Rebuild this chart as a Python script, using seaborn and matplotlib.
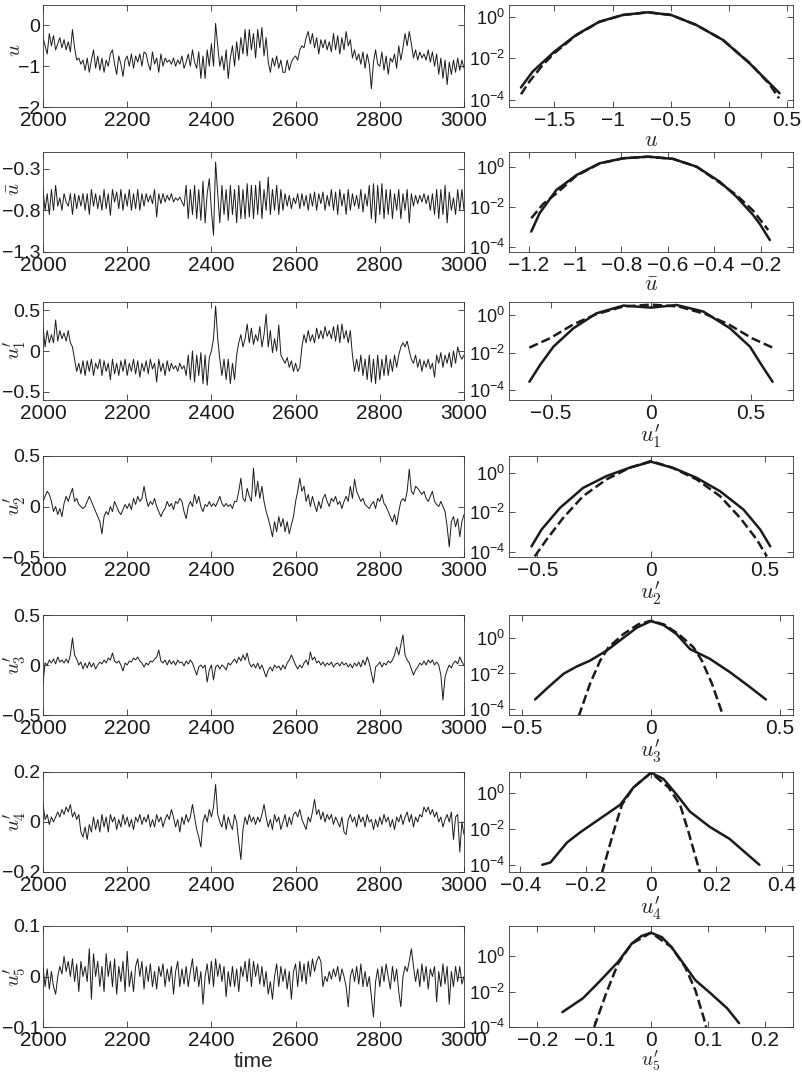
import numpy as np
import matplotlib
matplotlib.use("Agg")
import matplotlib.pyplot as plt
import seaborn as sns
from matplotlib.ticker import NullLocator

# time axis of the left panels (sampled every 5 time units)
time = np.arange(2000, 3001, 5)

u_series = [
    -0.3, -0.5, -0.7, -0.2, -0.5, -0.25, -0.6, -0.45, -0.3, -0.55, -0.35, -0.6, -0.4, -0.65, -0.1, -0.55, -0.85, -0.8, -0.95, -0.85,
    -1.1, -0.8, -1.15, -0.85, -0.6, -1.05, -0.75, -1.1, -0.8, -1.15, -0.85, -1.0, -0.7, -0.6, -0.95, -1.2, -0.75, -0.95, -1.25, -0.85,
    -0.75, -1.0, -0.7, -1.05, -0.75, -0.9, -0.7, -1.0, -0.65, -0.7, -0.95, -1.1, -0.65, -0.95, -0.8, -1.15, -0.7, -1.0, -0.8, -0.9,
    -0.85, -0.95, -0.8, -1.0, -0.85, -0.95, -0.75, -1.05, -0.9, -0.7, -1.0, -0.6, -0.9, -1.05, -0.65, -1.3, -0.75, -1.3, -0.6, -1.0,
    -0.45, -1.0, 0.05, -0.5, -1.0, -0.75, -1.1, -0.6, -1.3, -0.8, -0.5, -1.0, -0.4, -0.85, -0.3, -0.7, -0.1, -0.75, -0.1, -0.6,
    -0.2, -0.8, -0.1, -0.55, -0.05, -0.75, -0.3, -0.9, -1.15, -0.8, -1.0, -0.75, -1.05, -0.85, -1.15, -1.15, -0.85, -1.1, -0.9, -0.8,
    -0.75, -0.85, -0.6, -0.5, -0.55, -0.3, -0.15, -0.45, -0.2, -0.55, -0.3, -0.7, -0.35, -0.55, -0.35, -0.6, -0.4, -0.65, -0.2, -0.6,
    -0.25, -0.7, -0.3, -0.6, -0.15, -0.5, -0.35, -0.8, -0.6, -0.85, -0.7, -0.95, -0.65, -1.05, -0.7, -0.95, -1.55, -0.9, -0.6, -0.95,
    -1.0, -0.65, -1.1, -0.75, -1.2, -0.8, -0.9, -0.7, -1.05, -0.5, -0.85, -0.55, -0.2, -0.5, -0.15, -0.45, -0.8, -0.6, -0.85, -0.65,
    -0.8, -0.7, -0.85, -0.6, -0.9, -0.65, -1.0, -0.7, -1.2, -0.8, -1.3, -0.85, -1.45, -0.9, -1.2, -0.85, -1.15, -0.8, -1.1, -0.85,
    -1.05]

ubar_series = [
    -0.55, -0.8, -0.6, -0.85, -0.55, -0.8, -0.5, -0.75, -0.65, -0.8, -0.6, -0.7, -0.75, -0.6, -0.85, -0.6, -0.78, -0.62, -0.75, -0.6,
    -0.8, -0.6, -0.85, -0.55, -0.75, -0.6, -0.78, -0.62, -0.8, -0.55, -0.78, -0.6, -0.86, -0.55, -0.7, -0.58, -0.78, -0.55, -0.8, -0.6,
    -0.75, -0.55, -0.8, -0.6, -0.78, -0.55, -0.8, -0.6, -0.75, -0.6, -0.7, -0.62, -0.72, -0.55, -0.88, -0.6, -0.72, -0.6, -0.7, -0.62,
    -0.68, -0.6, -0.7, -0.65, -0.68, -0.64, -0.7, -0.75, -0.5, -0.9, -0.55, -0.85, -0.5, -0.9, -0.55, -0.92, -0.45, -0.95, -0.6, -0.42,
    -0.8, -1.1, -0.22, -0.6, -0.95, -0.5, -0.85, -0.55, -0.92, -0.5, -0.85, -0.55, -0.95, -0.5, -0.9, -0.55, -0.9, -0.48, -0.88, -0.5,
    -0.9, -0.5, -0.85, -0.45, -0.9, -0.55, -0.8, -0.4, -0.85, -0.55, -0.8, -0.5, -0.85, -0.55, -0.8, -0.6, -0.75, -0.62, -0.78, -0.65,
    -0.72, -0.6, -0.78, -0.6, -0.75, -0.62, -0.8, -0.6, -0.75, -0.58, -0.8, -0.6, -0.72, -0.58, -0.8, -0.62, -0.75, -0.55, -0.8, -0.58,
    -0.85, -0.55, -0.75, -0.6, -0.85, -0.55, -0.8, -0.6, -0.75, -0.62, -0.78, -0.55, -0.82, -0.6, -0.75, -0.5, -0.9, -0.48, -0.95, -0.5,
    -0.85, -0.48, -0.9, -0.55, -0.85, -0.55, -0.9, -0.6, -0.8, -0.55, -0.9, -0.6, -0.8, -0.55, -0.95, -0.6, -0.75, -0.62, -0.72, -0.62,
    -0.7, -0.6, -0.72, -0.62, -0.8, -0.6, -0.85, -0.55, -0.9, -0.55, -0.85, -0.5, -0.95, -0.58, -0.8, -0.65, -0.85, -0.55, -0.8, -0.55,
    -0.8]

u1_series = [
    0.3, 0.05, 0.25, 0.1, 0.2, 0.1, 0.38, 0.12, 0.25, 0.15, 0.22, 0.12, 0.25, 0.1, 0.05, -0.1, -0.25, -0.15, -0.28, -0.12,
    -0.3, -0.12, -0.25, -0.1, -0.3, -0.15, -0.22, -0.1, -0.3, -0.12, -0.25, -0.15, -0.35, -0.1, -0.28, -0.15, -0.3, -0.12, -0.25, -0.1,
    -0.3, -0.15, -0.25, -0.1, -0.28, -0.12, -0.32, -0.15, -0.25, -0.12, -0.28, -0.1, -0.22, -0.15, -0.38, -0.1, -0.25, -0.15, -0.3, -0.12,
    -0.25, -0.15, -0.22, -0.18, -0.25, -0.15, -0.22, -0.18, -0.3, -0.05, -0.35, 0.0, -0.38, -0.05, -0.3, -0.02, -0.4, -0.05, -0.42, -0.08,
    0.0, 0.15, 0.55, 0.15, -0.1, -0.3, -0.1, -0.35, -0.1, -0.4, -0.15, -0.35, -0.05, 0.1, 0.2, 0.05, 0.15, 0.33, 0.1, 0.28,
    0.08, 0.2, 0.12, 0.3, 0.05, 0.2, 0.45, 0.05, 0.25, -0.02, 0.15, 0.0, 0.32, -0.05, -0.1, -0.15, -0.08, -0.2, -0.12, -0.25,
    -0.15, -0.25, -0.2, 0.05, 0.2, 0.1, 0.25, 0.12, 0.2, 0.1, 0.28, 0.15, 0.25, 0.15, 0.3, 0.18, 0.25, 0.15, 0.3, 0.12,
    0.32, 0.1, 0.33, 0.15, 0.25, 0.1, 0.25, -0.05, -0.25, -0.1, -0.25, -0.05, -0.3, -0.1, -0.35, -0.05, -0.38, -0.1, -0.4, -0.05,
    -0.35, -0.1, -0.3, -0.05, -0.3, -0.1, -0.25, -0.05, -0.2, -0.05, 0.05, 0.1, 0.05, 0.12, 0.0, -0.1, -0.15, -0.05, -0.2, -0.1,
    -0.25, -0.12, -0.2, -0.1, -0.22, -0.15, -0.32, -0.05, -0.15, -0.02, -0.2, -0.05, -0.15, -0.02, -0.2, 0.0, -0.15, 0.05, -0.05, -0.1,
    -0.05]

u2_series = [
    0.05, 0.1, 0.15, 0.12, 0.05, -0.05, 0.0, -0.08, -0.02, -0.1, 0.03, 0.1, 0.05, 0.12, 0.18, 0.05, 0.08, 0.02, 0.0, -0.02,
    0.0, 0.05, 0.1, 0.05, 0.0, -0.05, -0.1, -0.15, -0.27, -0.1, -0.05, -0.08, 0.0, -0.05, 0.05, 0.0, -0.05, -0.08, -0.03, 0.02,
    -0.02, 0.03, -0.03, 0.08, 0.02, 0.1, 0.05, 0.08, 0.2, 0.08, 0.0, 0.05, 0.02, 0.08, 0.0, -0.05, -0.1, -0.05, -0.02, 0.05,
    0.0, 0.03, -0.03, 0.05, 0.03, 0.08, 0.05, -0.05, -0.12, 0.0, 0.05, 0.0, 0.12, 0.03, 0.1, 0.0, -0.05, 0.02, 0.0, 0.05,
    0.0, 0.03, 0.0, 0.05, 0.1, 0.03, 0.0, 0.03, 0.0, 0.02, -0.02, 0.05, 0.05, 0.15, 0.28, 0.08, 0.05, 0.18, 0.1, 0.05,
    0.38, 0.1, 0.25, 0.08, 0.2, 0.05, -0.05, -0.12, -0.2, -0.3, -0.15, -0.25, -0.1, -0.2, -0.12, -0.25, -0.15, -0.27, -0.18, -0.1,
    0.05, 0.15, 0.28, 0.15, 0.2, 0.05, 0.12, 0.0, 0.1, 0.02, -0.05, 0.05, -0.02, 0.08, 0.12, 0.05, 0.0, 0.08, 0.05, 0.1,
    0.02, 0.05, -0.02, 0.05, 0.1, 0.05, 0.2, 0.08, 0.27, 0.15, 0.1, 0.05, 0.08, 0.02, 0.0, -0.02, 0.02, 0.05, -0.02, 0.08,
    0.05, 0.12, 0.03, 0.0, -0.05, -0.1, -0.15, -0.08, -0.18, -0.05, 0.05, 0.08, 0.05, 0.15, 0.37, 0.15, 0.12, 0.2, 0.18, 0.15,
    0.12, 0.15, 0.08, 0.05, 0.1, 0.15, 0.05, 0.02, 0.0, 0.05, 0.0, -0.05, -0.2, -0.4, -0.15, -0.1, -0.2, -0.12, -0.3, -0.15,
    -0.08]

u3_series = [
    -0.18, 0.02, 0.0, 0.05, 0.02, 0.06, 0.01, 0.08, 0.03, 0.05, 0.02, 0.06, 0.02, 0.1, 0.27, 0.1, 0.06, 0.0, 0.03, -0.04,
    0.02, -0.03, 0.03, -0.02, 0.02, -0.04, 0.0, 0.03, 0.01, 0.05, 0.02, 0.07, 0.05, 0.12, 0.04, 0.02, 0.04, 0.0, -0.06, 0.02,
    0.0, 0.04, 0.03, 0.07, 0.05, 0.08, 0.04, 0.02, -0.02, 0.02, 0.0, 0.04, 0.03, 0.06, 0.08, 0.15, 0.04, 0.02, 0.05, 0.0,
    0.05, 0.01, 0.04, 0.0, 0.05, 0.02, 0.03, -0.01, 0.04, 0.01, 0.05, 0.02, -0.04, -0.1, -0.02, 0.0, -0.03, 0.0, -0.17, -0.05,
    0.0, -0.15, -0.02, 0.0, -0.04, 0.0, -0.02, -0.05, 0.02, 0.0, 0.03, 0.06, 0.02, 0.08, 0.04, 0.1, 0.05, 0.12, 0.02, -0.02,
    0.01, -0.03, 0.02, -0.04, 0.0, -0.06, -0.12, -0.05, -0.02, -0.06, 0.0, -0.03, -0.01, -0.05, 0.0, -0.04, 0.02, 0.05, 0.1, 0.05,
    0.0, -0.04, 0.0, -0.03, 0.02, 0.05, 0.0, 0.13, 0.05, 0.08, 0.02, 0.04, 0.0, 0.03, -0.01, 0.02, 0.0, 0.03, -0.02, 0.01,
    0.02, -0.01, 0.03, 0.0, 0.02, -0.02, 0.01, -0.03, 0.02, -0.01, 0.03, -0.02, 0.05, 0.0, 0.08, 0.02, -0.08, -0.18, -0.02, 0.0,
    0.03, -0.02, 0.02, 0.0, 0.04, 0.02, 0.05, 0.1, 0.18, 0.1, 0.2, 0.3, 0.1, 0.05, 0.02, -0.04, -0.1, -0.05, -0.02, 0.02,
    0.0, 0.04, 0.0, 0.05, 0.02, 0.05, 0.0, 0.03, 0.0, -0.1, -0.35, -0.12, -0.05, 0.0, -0.03, 0.02, 0.04, 0.01, 0.08, 0.03,
    0.0]

u4_series = [
    0.07, 0.01, 0.03, -0.01, 0.02, 0.0, 0.02, 0.04, 0.02, 0.05, 0.03, 0.06, 0.04, 0.07, 0.02, 0.04, 0.01, 0.03, -0.04, -0.06,
    -0.02, -0.07, -0.01, -0.04, 0.02, -0.03, 0.01, -0.04, 0.03, -0.02, 0.02, -0.04, 0.03, 0.0, 0.02, -0.03, 0.01, -0.02, 0.03, -0.01,
    0.02, -0.02, 0.01, -0.03, 0.02, 0.0, 0.03, -0.01, 0.02, 0.0, 0.03, -0.02, 0.01, -0.02, 0.03, 0.0, 0.02, -0.02, 0.01, 0.03,
    0.01, 0.05, 0.02, -0.02, 0.01, -0.04, 0.02, -0.01, 0.03, 0.0, 0.02, 0.07, 0.02, -0.03, -0.06, -0.1, 0.0, 0.03, 0.0, 0.05,
    0.02, 0.06, 0.15, 0.03, 0.0, -0.02, 0.03, -0.03, 0.02, -0.01, -0.03, 0.03, 0.0, -0.08, -0.15, -0.03, 0.02, -0.01, 0.03, 0.0,
    0.02, -0.01, 0.02, 0.0, 0.03, 0.07, 0.02, -0.02, 0.01, -0.03, 0.03, 0.0, 0.02, -0.03, 0.0, 0.03, -0.02, 0.02, -0.01, 0.03,
    0.04, 0.02, 0.05, 0.01, -0.01, -0.03, 0.02, 0.0, 0.04, 0.09, 0.03, 0.05, 0.01, 0.04, 0.0, 0.03, 0.01, 0.03, -0.01, 0.02,
    0.0, -0.02, 0.02, -0.04, -0.05, 0.01, 0.03, 0.0, 0.02, -0.02, 0.03, 0.0, 0.02, -0.02, 0.03, 0.0, 0.01, -0.03, 0.01, -0.02,
    0.02, -0.01, 0.03, 0.0, 0.02, -0.02, 0.01, -0.03, 0.02, 0.0, 0.03, -0.01, 0.02, 0.04, 0.0, 0.03, -0.02, 0.02, 0.0, 0.03,
    0.02, 0.06, 0.04, 0.06, 0.03, 0.05, 0.02, 0.04, 0.0, 0.02, -0.02, 0.01, 0.03, 0.0, 0.04, -0.07, 0.02, 0.03, -0.12, 0.0,
    -0.05]

u5_series = [
    0.02, -0.02, 0.015, -0.025, 0.01, -0.02, -0.035, 0.0, 0.02, 0.005, 0.04, 0.01, 0.03, 0.0, 0.035, -0.01, 0.025, -0.03, 0.03, 0.0,
    0.02, -0.01, 0.055, -0.045, 0.045, 0.0, 0.03, -0.02, 0.02, -0.03, 0.045, 0.0, 0.03, -0.02, 0.035, -0.035, 0.02, -0.01, 0.03, -0.03,
    0.05, -0.02, 0.01, -0.03, 0.02, 0.035, 0.0, 0.03, -0.025, 0.02, -0.01, 0.025, -0.02, 0.01, -0.025, 0.02, 0.0, 0.025, -0.02, 0.015,
    -0.01, 0.02, -0.035, 0.01, 0.03, -0.02, 0.015, -0.015, 0.02, -0.02, 0.01, 0.035, -0.01, 0.02, -0.02, 0.01, -0.055, 0.0, 0.025, -0.015,
    0.03, -0.02, 0.035, 0.0, 0.025, -0.01, 0.02, -0.04, 0.01, -0.02, 0.02, -0.02, 0.015, -0.03, 0.02, 0.0, 0.03, -0.01, 0.035, -0.02,
    0.03, 0.0, 0.025, -0.015, 0.02, -0.02, 0.01, -0.035, -0.01, -0.045, 0.0, 0.025, -0.02, 0.02, -0.01, 0.015, -0.025, 0.01, -0.045, 0.01,
    0.025, -0.02, 0.03, -0.01, 0.025, -0.015, 0.03, 0.0, 0.035, 0.01, 0.03, 0.04, 0.03, -0.02, 0.0, -0.01, 0.01, -0.005, 0.015, 0.0,
    0.02, -0.01, 0.015, 0.0, -0.02, -0.06, 0.0, 0.015, -0.01, 0.02, -0.015, 0.025, -0.02, 0.01, -0.02, 0.0, -0.04, -0.08, -0.01, 0.015,
    -0.02, 0.02, -0.01, 0.025, 0.0, -0.025, 0.02, -0.01, 0.015, -0.03, -0.06, 0.0, 0.02, 0.01, 0.03, 0.055, 0.02, -0.01, 0.015, -0.02,
    0.025, -0.01, 0.02, -0.025, 0.015, 0.0, 0.02, -0.05, 0.01, -0.02, 0.025, -0.015, 0.02, -0.055, 0.01, -0.02, 0.02, -0.01, 0.02, -0.015,
    0.0]

# PDFs (log10 of density)
u_pdf_x = [-1.787, -1.687, -1.5, -1.314, -1.113, -0.912, -0.697, -0.497, -0.281, -0.052, 0.177, 0.349, 0.435]
u_pdf = [-3.40, -2.64, -1.68, -0.88, -0.24, 0.08, 0.21, 0.08, -0.40, -1.12, -2.24, -3.20, -3.68]
u_fit_x = [-1.787, -1.715, -1.60, -1.5, -1.314, -1.113, -0.912, -0.697, -0.497, -0.281, -0.052, 0.177, 0.349, 0.43]
u_fit = [-3.73, -3.12, -2.32, -1.75, -0.9, -0.25, 0.08, 0.21, 0.08, -0.40, -1.12, -2.22, -3.25, -3.92]

ubar_pdf_x = [-1.189, -1.153, -1.081, -0.994, -0.894, -0.793, -0.685, -0.577, -0.476, -0.376, -0.304, -0.232, -0.203, -0.160]
ubar_pdf = [-3.25, -2.33, -1.17, -0.42, 0.17, 0.42, 0.5, 0.39, 0.0, -0.75, -1.5, -2.42, -2.87, -3.67]
ubar_fit_x = [-1.189, -1.138, -1.08, -0.994, -0.894, -0.793, -0.685, -0.577, -0.476, -0.376, -0.304, -0.232, -0.167]
ubar_fit = [-2.58, -1.87, -1.33, -0.45, 0.16, 0.42, 0.5, 0.39, 0.0, -0.8, -1.42, -2.2, -3.17]

u1_pdf_x = [-0.608, -0.555, -0.488, -0.388, -0.272, -0.138, 0.0, 0.128, 0.262, 0.395, 0.495, 0.553, 0.608]
u1_pdf = [-3.56, -2.67, -1.69, -0.71, 0.09, 0.50, 0.39, 0.53, 0.18, -0.71, -1.69, -2.67, -3.56]
u1_fit_x = [-0.608, -0.505, -0.388, -0.272, -0.138, 0.0, 0.138, 0.272, 0.388, 0.505, 0.608]
u1_fit = [-1.74, -1.24, -0.5, 0.05, 0.45, 0.55, 0.45, 0.05, -0.5, -1.24, -1.74]

u2_pdf_x = [-0.526, -0.482, -0.401, -0.299, -0.196, -0.093, 0.0, 0.099, 0.201, 0.304, 0.407, 0.481, 0.525]
u2_pdf = [-3.73, -2.88, -1.78, -0.76, -0.16, 0.27, 0.57, 0.25, -0.25, -0.93, -1.86, -2.88, -3.73]
u2_fit_x = [-0.512, -0.46, -0.387, -0.299, -0.196, -0.093, 0.0, 0.093, 0.201, 0.304, 0.393, 0.466, 0.51]
u2_fit = [-4.24, -3.39, -2.29, -1.18, -0.33, 0.27, 0.6, 0.27, -0.33, -1.18, -2.29, -3.39, -4.24]

u3_pdf_x = [-0.449, -0.404, -0.339, -0.288, -0.236, -0.172, -0.107, -0.055, 0.0, 0.048, 0.099, 0.151, 0.228, 0.306, 0.383, 0.445]
u3_pdf = [-3.46, -2.85, -2.02, -1.61, -1.28, -0.72, 0.0, 0.57, 0.94, 0.72, 0.21, -0.63, -1.18, -1.93, -2.76, -3.46]
u3_fit_x = [-0.28, -0.236, -0.197, -0.165, -0.107, -0.05, 0.0, 0.05, 0.107, 0.165, 0.197, 0.236, 0.28]
u3_fit = [-4.4, -2.57, -1.28, -0.54, 0.21, 0.75, 0.96, 0.75, 0.21, -0.54, -1.28, -2.57, -4.4]

u4_pdf_x = [-0.333, -0.308, -0.257, -0.216, -0.155, -0.094, -0.054, 0.0, 0.038, 0.078, 0.119, 0.18, 0.241, 0.302, 0.332]
u4_pdf = [-3.97, -3.84, -2.73, -2.16, -1.4, -0.64, 0.31, 1.13, 0.79, -0.07, -1.02, -1.87, -2.54, -3.5, -3.97]
u4_fit_x = [-0.15, -0.115, -0.089, -0.054, 0.0, 0.054, 0.089, 0.115, 0.15]
u4_fit = [-4.4, -2.16, -0.64, 0.31, 1.13, 0.31, -0.64, -2.16, -4.4]

u5_pdf_x = [-0.156, -0.12, -0.091, -0.058, -0.034, -0.017, 0.0, 0.019, 0.036, 0.057, 0.078, 0.105, 0.134, 0.155]
u5_pdf = [-3.16, -2.38, -1.44, -0.32, 0.71, 1.14, 1.33, 1.08, 0.52, -0.41, -1.35, -2.1, -2.94, -3.78]
u5_fit_x = [-0.1, -0.079, -0.058, -0.034, 0.0, 0.036, 0.06, 0.078, 0.093, 0.097]
u5_fit = [-4.0, -2.1, -0.41, 0.71, 1.33, 0.52, -0.6, -1.91, -3.5, -4.0]

names = [r"$u$", r"$\bar{u}$", r"$u^{\prime}_{1}$", r"$u^{\prime}_{2}$", r"$u^{\prime}_{3}$",
         r"$u^{\prime}_{4}$", r"$u^{\prime}_{5}$"]
series = [u_series, ubar_series, u1_series, u2_series, u3_series, u4_series, u5_series]
pdfs = [(u_pdf_x, u_pdf, u_fit_x, u_fit), (ubar_pdf_x, ubar_pdf, ubar_fit_x, ubar_fit),
        (u1_pdf_x, u1_pdf, u1_fit_x, u1_fit), (u2_pdf_x, u2_pdf, u2_fit_x, u2_fit),
        (u3_pdf_x, u3_pdf, u3_fit_x, u3_fit), (u4_pdf_x, u4_pdf, u4_fit_x, u4_fit),
        (u5_pdf_x, u5_pdf, u5_fit_x, u5_fit)]

left_ylims = [(-2, 0.5), (-1.3, -0.1), (-0.6, 0.6), (-0.5, 0.5), (-0.5, 0.5), (-0.2, 0.2), (-0.1, 0.1)]
left_yticks = [[-2, -1, 0], [-1.3, -0.8, -0.3], [-0.5, 0, 0.5], [-0.5, 0, 0.5], [-0.5, 0, 0.5],
               [-0.2, 0, 0.2], [-0.1, 0, 0.1]]
right_xlims = [(-1.89, 0.55), (-1.285, -0.06), (-0.71, 0.71), (-0.625, 0.625), (-0.55, 0.55),
               (-0.435, 0.435), (-0.25, 0.25)]
right_xticks = [[-1.5, -1, -0.5, 0, 0.5], [-1.2, -1, -0.8, -0.6, -0.4, -0.2], [-0.5, 0, 0.5],
                [-0.5, 0, 0.5], [-0.5, 0, 0.5], [-0.4, -0.2, 0, 0.2, 0.4], [-0.2, -0.1, 0, 0.1, 0.2]]
right_ylims = [(-4.34, 0.56), (-4.27, 0.735), (-4.53, 0.69), (-4.27, 0.86), (-4.33, 1.28),
               (-4.37, 1.17), (-4.0, 1.71)]

# row extents in pixels (top, bottom) and where the left y label sits
rows_px = [(5, 107), (152, 252), (302, 400), (456, 557), (615, 715), (772, 872), (926, 1027)]
ylabel_pos = [0.56, 0.63, 0.51, 0.51, 0.5, 0.5, 0.5]
ylabel_x = [-0.045, -0.045, -0.036, -0.036, -0.036, -0.036, -0.036]

sns.set_theme(style="ticks")
plt.rcParams['font.family'] = ['Liberation Sans', 'DejaVu Sans']
plt.rcParams['mathtext.fontset'] = 'cm'

W, H = 802, 1074
fig = plt.figure(figsize=(W / 100, H / 100), dpi=100)


def box(x0, x1, y0, y1):
    return [x0 / W, 1 - y1 / H, (x1 - x0) / W, (y1 - y0) / H]


def fmt(v):
    return f"{v:g}".replace('-', '\u2212')


def style(ax):
    for sp in ax.spines.values():
        sp.set_linewidth(0.6)
        sp.set_color('0.2')
    ax.tick_params(direction='in', top=True, right=True, length=4, width=0.6,
                   labelsize=15, pad=3, colors='0.2', labelcolor='k')


for i in range(7):
    top, bot = rows_px[i]

    # time series
    axl = fig.add_axes(box(43, 464, top, bot))
    sns.lineplot(x=time, y=series[i], ax=axl, color='k', linewidth=0.7,
                 estimator=None, sort=False)
    axl.set_xlim(2000, 3000)
    axl.set_ylim(*left_ylims[i])
    axl.set_xticks(range(2000, 3001, 200))
    axl.set_yticks(left_yticks[i])
    axl.set_yticklabels([fmt(v) for v in left_yticks[i]])
    style(axl)
    axl.tick_params(axis='y', labelsize=14, pad=2)
    axl.set_ylabel(names[i], fontsize=15)
    axl.yaxis.set_label_coords(ylabel_x[i], ylabel_pos[i])
    axl.set_xlabel('')
    if i == 6:
        axl.set_xlabel('time', fontsize=15, labelpad=1)

    # pdf
    px, py, fx, fy = pdfs[i]
    axr = fig.add_axes(box(509, 793, top, bot))
    sns.lineplot(x=px, y=10 ** np.array(py), ax=axr, color='k', linewidth=1.8,
                 estimator=None, sort=False)
    sns.lineplot(x=fx, y=10 ** np.array(fy), ax=axr, color='k', linewidth=1.8,
                 linestyle='--', estimator=None, sort=False)
    axr.set_yscale('log')
    lo, hi = right_ylims[i]
    axr.set_ylim(10 ** lo, 10 ** hi)
    axr.set_yticks([1e-4, 1e-2, 1])
    axr.yaxis.set_minor_locator(NullLocator())
    axr.set_xlim(*right_xlims[i])
    axr.set_xticks(right_xticks[i])
    axr.set_xticklabels([fmt(v) for v in right_xticks[i]])
    style(axr)
    axr.tick_params(axis='y', labelsize=13)
    axr.set_ylabel('')
    axr.set_xlabel(names[i], fontsize=16 if i < 6 else 14, labelpad=0 if i < 6 else -1.5)

fig.savefig("out.png", dpi=100)
